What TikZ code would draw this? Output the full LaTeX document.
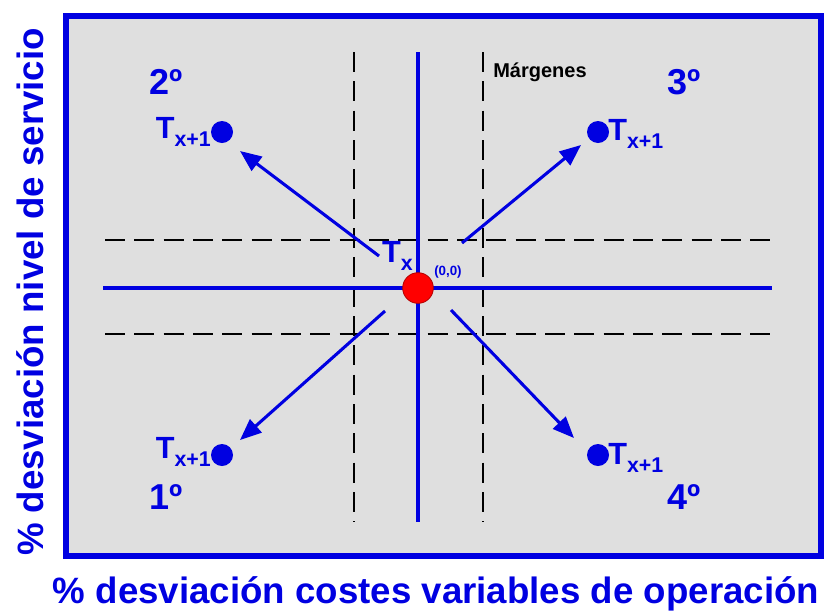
\documentclass[tikz,border=0pt]{standalone}
\usepackage{fontspec}
\setmainfont{Liberation Sans}
\usetikzlibrary{arrows.meta}
\definecolor{mblue}{RGB}{0,0,225}
\definecolor{mgray}{RGB}{223,223,223}
\newcommand{\txone}{T\raisebox{-6pt}{\fontsize{16}{18}\selectfont x+1}}
\tikzset{
  axisline/.style={mblue,line width=3.4pt},
  margin/.style={black,line width=1.8pt,dash pattern=on 15pt off 7pt},
  arr/.style={mblue,line width=2.3pt,-{Triangle[length=16pt,width=13pt]}},
  dot/.style={circle,fill=mblue,inner sep=0pt,minimum size=16.5pt},
  quad/.style={mblue,font=\bfseries\fontsize{27}{30}\selectfont},
  tlab/.style={mblue,font=\bfseries\fontsize{23}{26}\selectfont,inner sep=0pt},
  axlab/.style={mblue,font=\bfseries\fontsize{27.5}{32}\selectfont},
}
\begin{document}
\begin{tikzpicture}[x=0.75pt,y=-0.75pt]
\useasboundingbox (0,0) rectangle (830,615);
\draw[mblue,line width=3.8pt,fill=mgray] (66,16) rectangle (821,556);
% margins
\draw[margin] (354,52) -- (354,522);
\draw[margin] (483,52) -- (483,522);
\draw[margin] (105,240) -- (772,240);
\draw[margin] (105,334) -- (772,334);
% axes
\draw[axisline] (103,288) -- (772,288);
\draw[axisline] (418,52) -- (418,522);
% center
\node[circle,fill=red,draw=red!70!black,line width=0.6pt,minimum size=23pt,inner sep=0pt] (c) at (418,288) {};
\node[tlab,anchor=south east] (tx) at (413,271) {T\raisebox{-6pt}{\fontsize{16}{18}\selectfont x}};
\node[mblue,font=\bfseries\fontsize{10}{12}\selectfont,anchor=west,inner sep=0pt] (o) at (434,272) {(0,0)};
\node[font=\bfseries\fontsize{15}{18}\selectfont,anchor=west,inner sep=0pt] (m) at (493,72) {Márgenes};
% dots
\node[dot] (d2) at (222,132) {};
\node[dot] (d3) at (598,132) {};
\node[dot] (d1) at (222,455) {};
\node[dot] (d4) at (598,455) {};
\node[tlab,anchor=east] (t2) at (211,132) {\txone};
\node[tlab,anchor=west] (t3) at (608,134) {\txone};
\node[tlab,anchor=east] (t1) at (211,452) {\txone};
\node[tlab,anchor=west] (t4) at (608,458) {\txone};
% quadrant labels
\node[quad] (q2) at (166,82) {2º};
\node[quad] (q3) at (684,82) {3º};
\node[quad] (q1) at (166,497) {1º};
\node[quad] (q4) at (684,497) {4º};
% arrows
\coordinate (s2) at (379,256);
\coordinate (e2) at (240,151);
\coordinate (s3) at (462,243);
\coordinate (e3) at (581,145);
\coordinate (s1) at (385,311);
\coordinate (e1) at (240,440);
\coordinate (s4) at (451,310);
\coordinate (e4) at (574,438);
\draw[arr] (s2) -- (e2);
\draw[arr] (s3) -- (e3);
\draw[arr] (s1) -- (e1);
\draw[arr] (s4) -- (e4);
% axis labels
\node[axlab] (xl) at (436,594) {\% desviación costes variables de operación};
\node[axlab,rotate=90] (yl) at (30,292) {\% desviación nivel de servicio};
\end{tikzpicture}
\end{document}
